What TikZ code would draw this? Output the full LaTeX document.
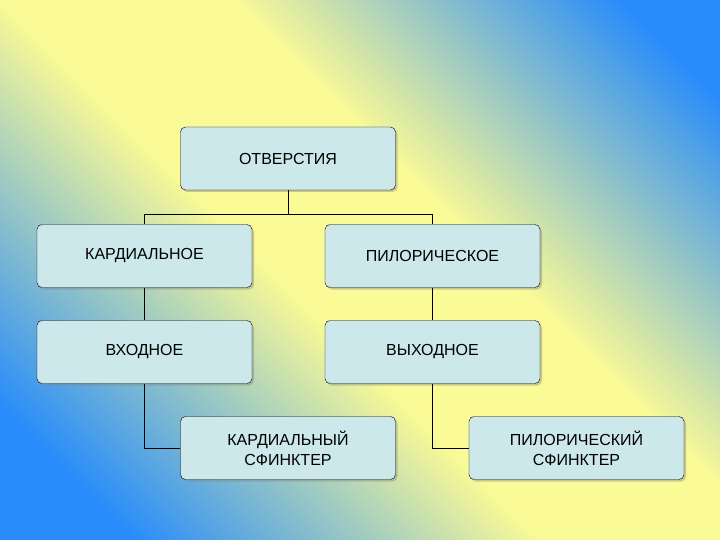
\documentclass[tikz,border=0pt]{standalone}
\usepackage{fontspec}
\setmainfont{Liberation Sans}
\usetikzlibrary{shadows}
\definecolor{bgblue}{RGB}{40,140,250}
\definecolor{bgyellow}{RGB}{250,250,150}
\definecolor{boxfill}{RGB}{204,232,234}
\pgfdeclarehorizontalshading{bgshade}{100bp}{color(0bp)=(bgblue);color(22bp)=(bgblue);color(45bp)=(bgyellow);color(58bp)=(bgyellow);color(80bp)=(bgblue);color(100bp)=(bgblue)}
\begin{document}
\begin{tikzpicture}[x=1pt,y=-1pt,
  box/.style={draw=black,fill=boxfill,rounded corners=5pt,minimum width=215pt,minimum height=63pt,align=center,font=\fontsize{16}{20}\selectfont,drop shadow={shadow xshift=2pt,shadow yshift=-2pt,opacity=0.4}},
  conn/.style={draw=black,line width=1pt}]
\shade[shading=bgshade,shading angle=45] (0,0) rectangle (720,540);
\useasboundingbox (0,0) rectangle (720,540);
\node[box] (o) at (288,158.5) {ОТВЕРСТИЯ};
\node[box] (k) at (144.5,256) {КАРДИАЛЬНОЕ};
\node[box] (p) at (432.5,256) {ПИЛОРИЧЕСКОЕ};
\node[box] (v) at (144.5,352) {ВХОДНОЕ};
\node[box] (w) at (432.5,352) {ВЫХОДНОЕ};
\node[box] (ks) at (288,448) {КАРДИАЛЬНЫЙ\\СФИНКТЕР};
\node[box] (ps) at (576.5,448) {ПИЛОРИЧЕСКИЙ\\СФИНКТЕР};
\draw[conn] (o.south) -- ++(0,24) -| (k.north);
\draw[conn] (o.south) -- ++(0,24) -| (p.north);
\draw[conn] (k.south) -- (v.north);
\draw[conn] (p.south) -- (w.north);
\draw[conn] (v.south) |- (ks.west);
\draw[conn] (w.south) |- (ps.west);
\end{tikzpicture}
\end{document}
